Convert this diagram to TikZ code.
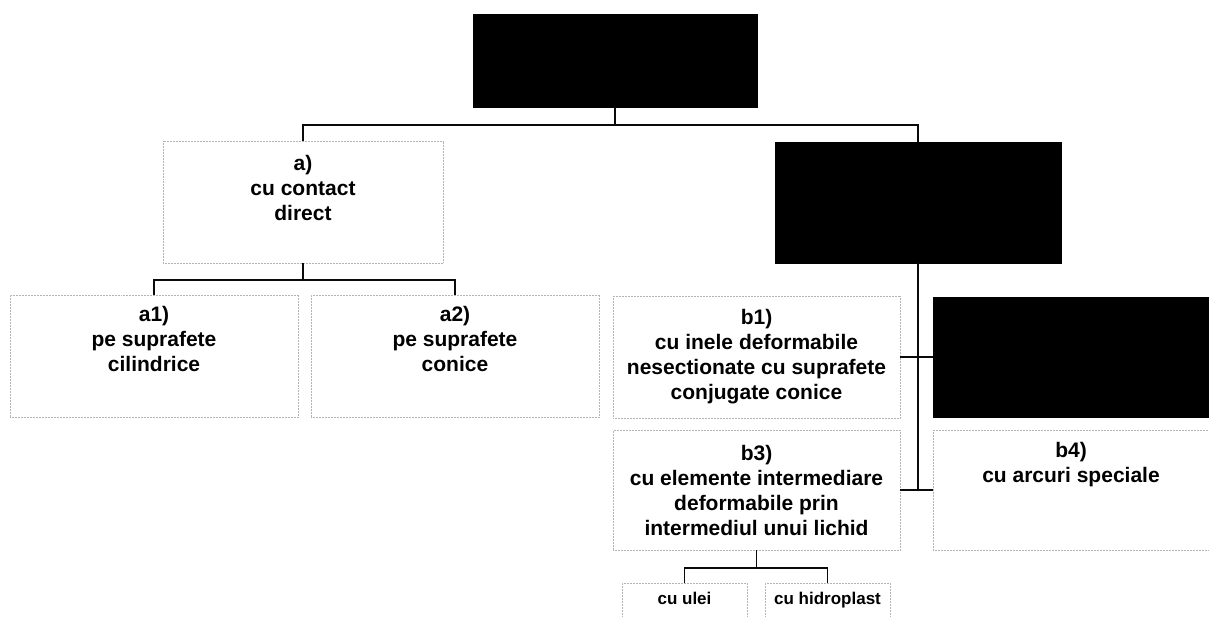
\documentclass[tikz,border=0pt]{standalone}
\usepackage{fontspec}
\setmainfont{Liberation Sans}
\usetikzlibrary{positioning}
\definecolor{boxblack}{RGB}{0,0,0}
\definecolor{dotgray}{RGB}{180,180,180}
\definecolor{linkblack}{RGB}{10,10,10}
\tikzset{
  darkbox/.style={rectangle, draw=boxblack, fill=boxblack, inner sep=0pt},
  textbox/.style={rectangle, draw=dotgray, densely dotted, line width=0.5pt,
    align=center, inner sep=0pt, font=\fontsize{21}{25}\selectfont\bfseries},
  smallbox/.style={textbox, font=\fontsize{17}{20}\selectfont\bfseries,
    text height=12pt, text depth=4pt},
  link/.style={line width=1.3pt, color=linkblack}
}

\begin{document}
\begin{tikzpicture}[x=1pt, y=-1pt]
  \useasboundingbox (0,0) rectangle (1209,617);

  % Root node
  \node[darkbox, minimum width=284pt, minimum height=93pt] (root) at (615,60.5) {};

  % Second level
  \node[textbox, minimum width=280pt, minimum height=122pt] (a) at (303,202) {a)\\cu contact\\direct\\[3pt]\mbox{}};
  \node[darkbox, minimum width=286pt, minimum height=121pt] (b) at (918,202.5) {};

  % Direct contact variants
  \node[textbox, minimum width=288pt, minimum height=122pt] (a1) at (154,356) {a1)\\pe suprafete\\cilindrice\\[9pt]\mbox{}};
  \node[textbox, minimum width=288pt, minimum height=122pt] (a2) at (455,356) {a2)\\pe suprafete\\conice\\[9pt]\mbox{}};

  % Intermediate element variants
  \node[textbox, minimum width=287pt, minimum height=122pt] (b1) at (756.5,357) {b1)\\cu inele deformabile\\nesectionate cu suprafete\\conjugate conice};
  \node[darkbox, minimum width=276pt, minimum height=120pt] (b2) at (1071,357) {};
  \node[textbox, minimum width=287pt, minimum height=120pt] (b3) at (756.5,490) {b3)\\cu elemente intermediare\\deformabile prin\\intermediul unui lichid};
  \node[textbox, minimum width=276pt, minimum height=120pt] (b4) at (1071,490) {b4)\\cu arcuri speciale\\[31pt]\mbox{}};

  % Liquid kinds
  \node[smallbox, minimum width=125pt, minimum height=34pt] (ulei) at (684.5,600) {cu ulei};
  \node[smallbox, minimum width=125pt, minimum height=34pt] (hidro) at (827.5,600) {cu hidroplast};

  % Bus levels
  \coordinate (bus1) at (0,125);
  \coordinate (bus2) at (0,280);
  \coordinate (bus3) at (0,568);

  % Connectors
  \draw[link] (root.south) -- (root.south |- bus1);
  \draw[link] (a.north) -- (a.north |- bus1) -- (b.north |- bus1) -- (b.north);
  \draw[link] (a.south) -- (a.south |- bus2);
  \draw[link] (a1.north) -- (a1.north |- bus2) -- (a2.north |- bus2) -- (a2.north);
  \draw[link] (b.south) -- (b.south |- b3.east);
  \draw[link] (b1.east) -- (b2.west);
  \draw[link] (b3.east) -- (b4.west);
  \draw[link] (b3.south) -- (b3.south |- bus3);
  \draw[link] (ulei.north) -- (ulei.north |- bus3) -- (hidro.north |- bus3) -- (hidro.north);
\end{tikzpicture}
\end{document}
